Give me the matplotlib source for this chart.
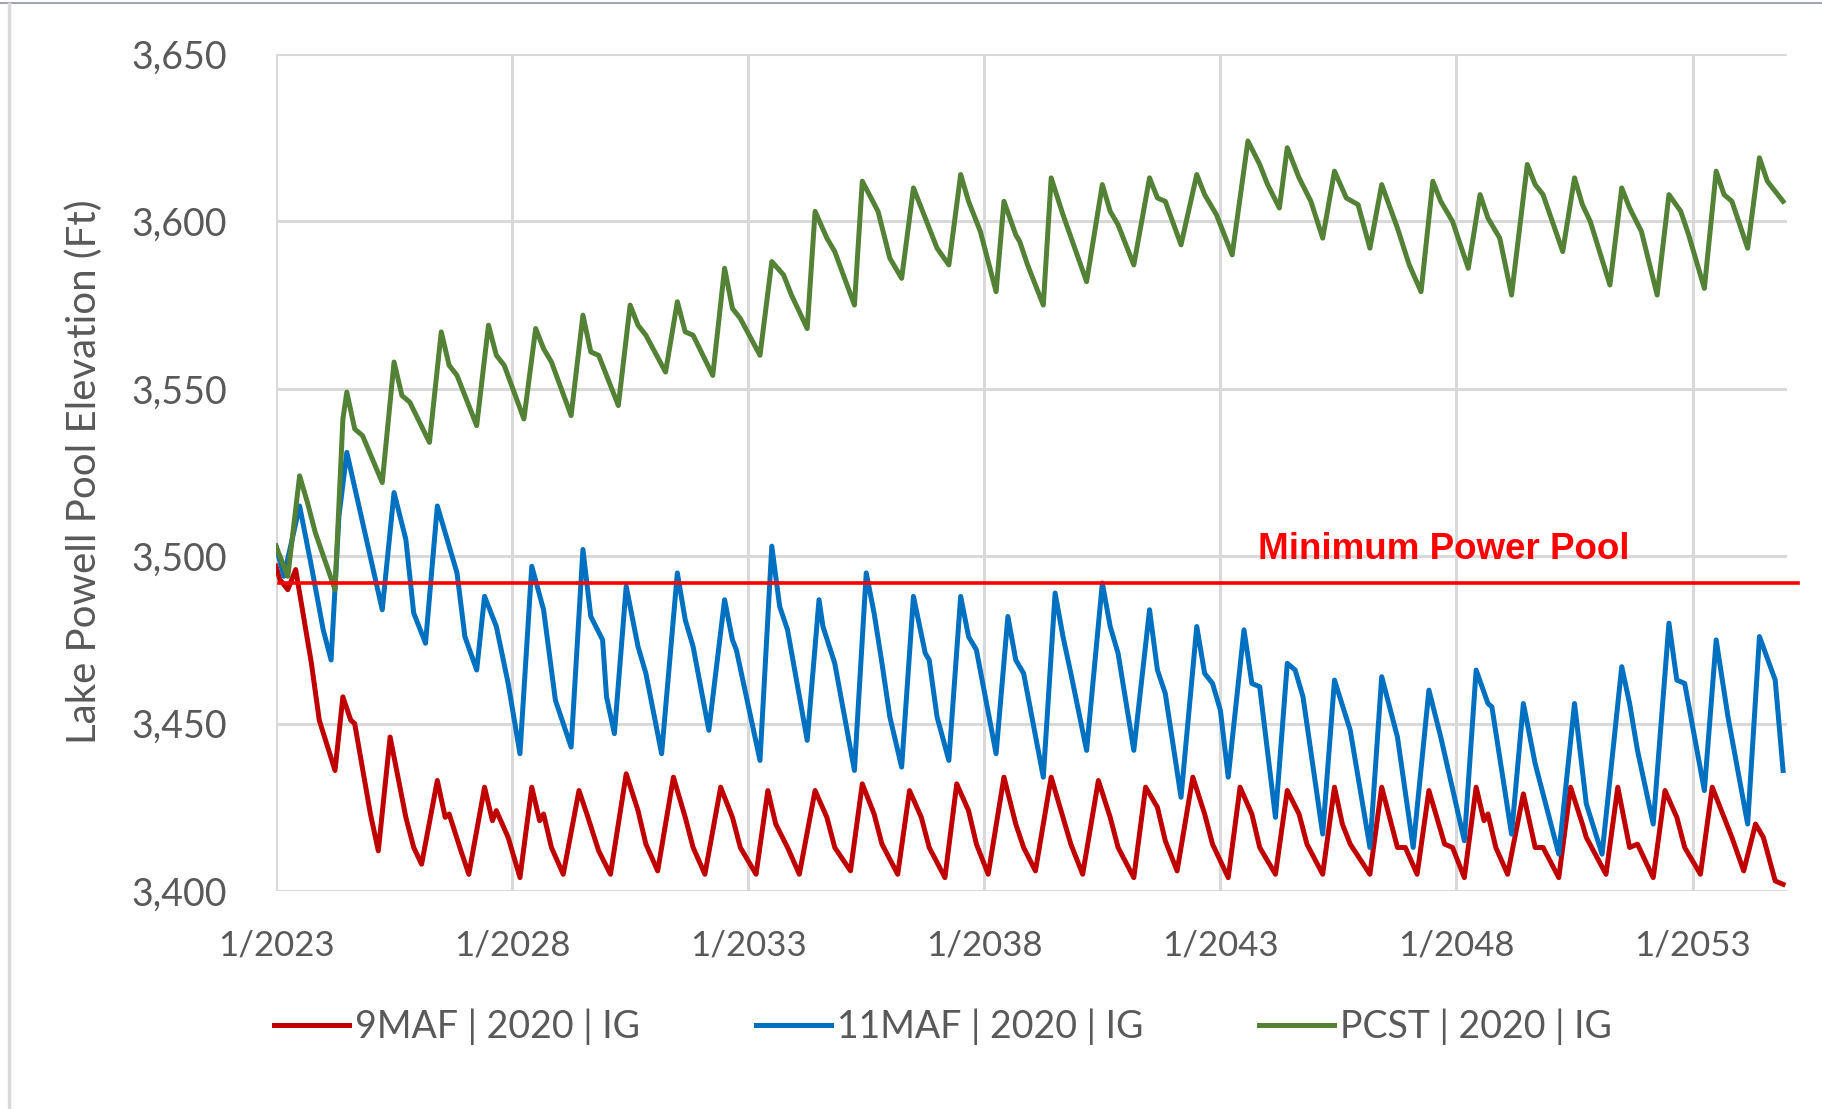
import matplotlib
matplotlib.use("Agg")
import matplotlib.pyplot as plt
from matplotlib.lines import Line2D
from matplotlib.ticker import FuncFormatter

# Lake Powell pool elevation (ft), key monthly points
mafv9 = [
    ("2023-01", 3497), ("2023-02", 3493), ("2023-04", 3490), ("2023-06", 3496), ("2023-08", 3482), ("2023-10", 3468), ("2023-12", 3451),
    ("2024-04", 3436), ("2024-06", 3458), ("2024-08", 3451), ("2024-09", 3450), ("2025-01", 3423),
    ("2025-03", 3412), ("2025-06", 3446), ("2025-10", 3422), ("2025-12", 3413),
    ("2026-02", 3408), ("2026-06", 3433), ("2026-08", 3422), ("2026-09", 3423), ("2026-12", 3412),
    ("2027-02", 3405), ("2027-06", 3431), ("2027-08", 3421), ("2027-09", 3424), ("2027-12", 3416),
    ("2028-03", 3404), ("2028-06", 3431), ("2028-08", 3421), ("2028-09", 3423), ("2028-11", 3413),
    ("2029-02", 3405), ("2029-06", 3430), ("2029-08", 3423), ("2029-11", 3412),
    ("2030-02", 3405), ("2030-06", 3435), ("2030-09", 3424), ("2030-11", 3414),
    ("2031-02", 3406), ("2031-06", 3434), ("2031-09", 3422), ("2031-11", 3413),
    ("2032-02", 3405), ("2032-06", 3431), ("2032-09", 3422), ("2032-11", 3413),
    ("2033-03", 3405), ("2033-06", 3430), ("2033-08", 3420), ("2033-11", 3413),
    ("2034-02", 3405), ("2034-06", 3430), ("2034-09", 3422), ("2034-11", 3413),
    ("2035-03", 3406), ("2035-06", 3432), ("2035-09", 3423), ("2035-11", 3414),
    ("2036-03", 3405), ("2036-06", 3430), ("2036-09", 3422), ("2036-11", 3413),
    ("2037-03", 3404), ("2037-06", 3432), ("2037-09", 3424), ("2037-11", 3414),
    ("2038-02", 3405), ("2038-06", 3434), ("2038-09", 3420), ("2038-11", 3413),
    ("2039-02", 3406), ("2039-06", 3434), ("2039-09", 3422), ("2039-11", 3414),
    ("2040-02", 3405), ("2040-06", 3433), ("2040-09", 3422), ("2040-11", 3413),
    ("2041-03", 3404), ("2041-06", 3431), ("2041-09", 3425), ("2041-11", 3415),
    ("2042-02", 3406), ("2042-06", 3434), ("2042-09", 3423), ("2042-11", 3414),
    ("2043-03", 3404), ("2043-06", 3431), ("2043-09", 3423), ("2043-11", 3413),
    ("2044-03", 3405), ("2044-06", 3430), ("2044-09", 3423), ("2044-11", 3414),
    ("2045-03", 3405), ("2045-06", 3431), ("2045-08", 3420), ("2045-10", 3414),
    ("2046-03", 3405), ("2046-06", 3431), ("2046-10", 3413), ("2046-12", 3413),
    ("2047-03", 3405), ("2047-06", 3430), ("2047-10", 3414), ("2047-12", 3413),
    ("2048-03", 3404), ("2048-06", 3431), ("2048-08", 3421), ("2048-09", 3423), ("2048-11", 3413),
    ("2049-02", 3405), ("2049-06", 3429), ("2049-09", 3413), ("2049-11", 3413),
    ("2050-03", 3404), ("2050-06", 3431), ("2050-09", 3420), ("2050-10", 3416),
    ("2051-03", 3405), ("2051-06", 3431), ("2051-09", 3413), ("2051-11", 3414),
    ("2052-03", 3404), ("2052-06", 3430), ("2052-09", 3422), ("2052-11", 3413),
    ("2053-03", 3405), ("2053-06", 3431), ("2053-09", 3422), ("2053-11", 3416),
    ("2054-02", 3406), ("2054-05", 3420), ("2054-07", 3416), ("2054-10", 3403), ("2054-12", 3402),
]

mafv11 = [
    ("2023-01", 3503), ("2023-03", 3494), ("2023-07", 3515), ("2023-10", 3497), ("2024-01", 3478),
    ("2024-03", 3469), ("2024-05", 3512), ("2024-07", 3531),
    ("2025-04", 3484), ("2025-07", 3519), ("2025-10", 3505), ("2025-12", 3483),
    ("2026-03", 3474), ("2026-06", 3515), ("2026-11", 3495), ("2027-01", 3476),
    ("2027-04", 3466), ("2027-06", 3488), ("2027-09", 3479), ("2027-12", 3462),
    ("2028-03", 3441), ("2028-06", 3497), ("2028-09", 3484), ("2028-12", 3457),
    ("2029-04", 3443), ("2029-07", 3502), ("2029-09", 3482), ("2029-12", 3475), ("2030-01", 3458),
    ("2030-03", 3447), ("2030-06", 3491), ("2030-09", 3473), ("2030-11", 3465),
    ("2031-03", 3441), ("2031-07", 3495), ("2031-09", 3481), ("2031-11", 3473),
    ("2032-03", 3448), ("2032-07", 3487), ("2032-09", 3475), ("2032-10", 3472),
    ("2033-04", 3439), ("2033-07", 3503), ("2033-09", 3485), ("2033-11", 3478),
    ("2034-04", 3445), ("2034-07", 3487), ("2034-08", 3479), ("2034-11", 3468),
    ("2035-04", 3436), ("2035-07", 3495), ("2035-09", 3483), ("2035-11", 3468), ("2036-01", 3452),
    ("2036-04", 3437), ("2036-07", 3488), ("2036-10", 3471), ("2036-11", 3469), ("2037-01", 3452),
    ("2037-04", 3439), ("2037-07", 3488), ("2037-09", 3476), ("2037-11", 3472),
    ("2038-04", 3441), ("2038-07", 3482), ("2038-09", 3469), ("2038-11", 3465),
    ("2039-04", 3434), ("2039-07", 3489), ("2039-09", 3476), ("2039-11", 3465),
    ("2040-03", 3442), ("2040-07", 3492), ("2040-09", 3479), ("2040-11", 3471),
    ("2041-03", 3442), ("2041-07", 3484), ("2041-09", 3466), ("2041-11", 3459),
    ("2042-03", 3428), ("2042-07", 3479), ("2042-09", 3465), ("2042-11", 3462), ("2043-01", 3454),
    ("2043-03", 3434), ("2043-07", 3478), ("2043-09", 3462), ("2043-11", 3461),
    ("2044-03", 3422), ("2044-06", 3468), ("2044-08", 3466), ("2044-10", 3458),
    ("2045-03", 3417), ("2045-06", 3463), ("2045-10", 3448),
    ("2046-03", 3413), ("2046-06", 3464), ("2046-10", 3446),
    ("2047-02", 3413), ("2047-06", 3460), ("2047-09", 3446),
    ("2048-03", 3415), ("2048-06", 3466), ("2048-09", 3456), ("2048-10", 3455),
    ("2049-03", 3417), ("2049-06", 3456), ("2049-09", 3438),
    ("2050-03", 3411), ("2050-07", 3456), ("2050-10", 3426),
    ("2051-02", 3411), ("2051-07", 3467), ("2051-09", 3456), ("2051-11", 3442),
    ("2052-03", 3420), ("2052-07", 3480), ("2052-09", 3463), ("2052-11", 3462),
    ("2053-04", 3430), ("2053-07", 3475), ("2053-10", 3452),
    ("2054-03", 3420), ("2054-06", 3476), ("2054-10", 3463), ("2054-12", 3436),
]

pcst = [
    ("2023-01", 3503), ("2023-04", 3494), ("2023-07", 3524), ("2023-09", 3516), ("2023-11", 3507),
    ("2024-04", 3490), ("2024-06", 3541), ("2024-07", 3549), ("2024-09", 3538), ("2024-11", 3536),
    ("2025-04", 3522), ("2025-07", 3558), ("2025-09", 3548), ("2025-11", 3546),
    ("2026-04", 3534), ("2026-07", 3567), ("2026-09", 3557), ("2026-11", 3554),
    ("2027-04", 3539), ("2027-07", 3569), ("2027-09", 3560), ("2027-11", 3557),
    ("2028-04", 3541), ("2028-07", 3568), ("2028-09", 3562), ("2028-11", 3558),
    ("2029-04", 3542), ("2029-07", 3572), ("2029-09", 3561), ("2029-11", 3560),
    ("2030-04", 3545), ("2030-07", 3575), ("2030-09", 3569), ("2030-11", 3566),
    ("2031-04", 3555), ("2031-07", 3576), ("2031-09", 3567), ("2031-11", 3566),
    ("2032-04", 3554), ("2032-07", 3586), ("2032-09", 3574), ("2032-11", 3571),
    ("2033-04", 3560), ("2033-07", 3588), ("2033-10", 3584), ("2033-12", 3578),
    ("2034-04", 3568), ("2034-06", 3603), ("2034-09", 3595), ("2034-11", 3591),
    ("2035-04", 3575), ("2035-06", 3612), ("2035-10", 3603), ("2036-01", 3589),
    ("2036-04", 3583), ("2036-07", 3610), ("2036-10", 3601), ("2037-01", 3592),
    ("2037-04", 3587), ("2037-07", 3614), ("2037-09", 3606), ("2037-12", 3597),
    ("2038-04", 3579), ("2038-06", 3606), ("2038-09", 3596), ("2038-10", 3594), ("2038-12", 3587),
    ("2039-04", 3575), ("2039-06", 3613), ("2039-09", 3602), ("2039-12", 3592),
    ("2040-03", 3582), ("2040-07", 3611), ("2040-09", 3603), ("2040-11", 3599),
    ("2041-03", 3587), ("2041-07", 3613), ("2041-09", 3607), ("2041-11", 3606),
    ("2042-03", 3593), ("2042-07", 3614), ("2042-09", 3608), ("2042-12", 3602),
    ("2043-04", 3590), ("2043-08", 3624), ("2043-11", 3617), ("2044-01", 3611),
    ("2044-04", 3604), ("2044-06", 3622), ("2044-09", 3613), ("2044-12", 3606),
    ("2045-03", 3595), ("2045-06", 3615), ("2045-09", 3607), ("2045-12", 3605),
    ("2046-03", 3592), ("2046-06", 3611), ("2046-10", 3598), ("2047-01", 3587),
    ("2047-04", 3579), ("2047-07", 3612), ("2047-09", 3606), ("2047-12", 3600),
    ("2048-04", 3586), ("2048-07", 3608), ("2048-09", 3601), ("2048-12", 3595),
    ("2049-03", 3578), ("2049-07", 3617), ("2049-09", 3611), ("2049-11", 3608),
    ("2050-04", 3591), ("2050-07", 3613), ("2050-09", 3605), ("2050-11", 3600),
    ("2051-04", 3581), ("2051-07", 3610), ("2051-09", 3604), ("2051-12", 3597),
    ("2052-04", 3578), ("2052-07", 3608), ("2052-10", 3603), ("2052-12", 3596),
    ("2053-04", 3580), ("2053-07", 3615), ("2053-09", 3608), ("2053-11", 3606),
    ("2054-03", 3592), ("2054-06", 3619), ("2054-08", 3612), ("2054-10", 3609), ("2054-12", 3606),
]

series_labels = ["9MAF | 2020 | IG", "11MAF | 2020 | IG", "PCST | 2020 | IG"]
series_colors = ["#c00000", "#0070c0", "#538135"]
tick_years = [2023, 2028, 2033, 2038, 2043, 2048, 2053]
min_power_pool = 3492

GRAY = "#595959"


def to_xy(points):
    xs = [int(d[:4]) + (int(d[5:]) - 1) / 12 for d, _ in points]
    ys = [v for _, v in points]
    return xs, ys


plt.rcParams["font.family"] = ["Lato", "DejaVu Sans"]

fig = plt.figure(figsize=(18.22, 11.09), dpi=100)
ax = fig.add_axes([276 / 1822, 1 - 891 / 1109, 1511 / 1822, 837 / 1109])

for pts, color, label in zip([mafv9, mafv11, pcst], series_colors, series_labels):
    x, y = to_xy(pts)
    ax.plot(x, y, color=color, lw=3.6, label=label, solid_joinstyle="round", zorder=3)

# minimum power pool reference line runs a bit past the plot area
ax.axhline(min_power_pool, xmin=0.002, xmax=1.007, color="#ff0000", lw=2.6, clip_on=False, zorder=4)
ax.text(2043.8, 3499.2, "Minimum Power Pool", color="#ff0000", fontsize=26.5,
        fontweight="bold", family=["Liberation Sans"], va="baseline", zorder=5)

ax.set_xlim(2023, 2055)
ax.set_ylim(3400, 3650)
ax.set_xticks(tick_years)
ax.set_xticklabels([f"1/{y}" for y in tick_years])
ax.set_yticks(range(3400, 3651, 50))
ax.yaxis.set_major_formatter(FuncFormatter(lambda v, p: f"{int(v):,}"))
ax.grid(True, color="#d9d9d9", lw=2.2)
ax.set_axisbelow(True)
for s in ax.spines.values():
    s.set_visible(False)
ax.tick_params(axis="both", length=0, labelcolor=GRAY)
ax.tick_params(axis="x", pad=28, labelsize=25)
ax.tick_params(axis="y", pad=35, labelsize=27)

fig.text(84 / 1822, 1 - 472 / 1109, "Lake Powell Pool Elevation (Ft)", rotation=90,
         ha="center", va="center", fontsize=29, color=GRAY)

handles, labels = ax.get_legend_handles_labels()
fig.legend(handles, labels, loc="center", bbox_to_anchor=(943 / 1822, 82 / 1109), ncol=3,
           frameon=False, fontsize=27, handlelength=2.0, handletextpad=0.15,
           columnspacing=3.1, labelcolor=GRAY)

# thin frame lines at the top and left edge of the picture
fig.add_artist(Line2D([0, 1], [0.997, 0.997], transform=fig.transFigure, color="#a4a4b8", lw=1.5))
fig.add_artist(Line2D([0.005, 0.005], [0, 0.996], transform=fig.transFigure, color="#d9d9d9", lw=2.5))

fig.savefig("out.png", dpi=100)
